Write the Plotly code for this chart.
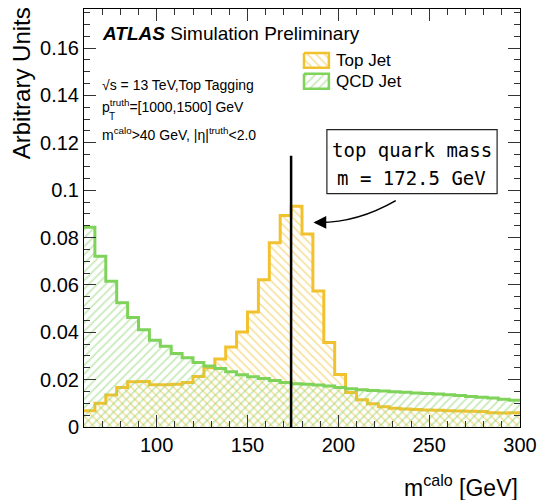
import plotly.graph_objects as go

# ---------------- data ----------------
bin_edges = [60, 66, 72, 78, 84, 90, 96, 102, 108, 114, 120, 126, 132, 138, 144,
             150, 156, 162, 168, 174, 180, 186, 192, 198, 204, 210, 216, 222, 228,
             234, 240, 246, 252, 258, 264, 270, 276, 282, 288, 294, 300]

top_jet = [0.0069, 0.0100, 0.0135, 0.0167, 0.0191, 0.0192, 0.0178, 0.0178, 0.0180, 0.0188,
           0.0213, 0.0250, 0.0287, 0.0338, 0.0401, 0.0486, 0.0622, 0.0778, 0.0893, 0.0932,
           0.0815, 0.0574, 0.0357, 0.0222, 0.0146, 0.0115, 0.0098, 0.0086, 0.0079, 0.0076,
           0.0074, 0.0072, 0.0071, 0.0069, 0.0068, 0.0066, 0.0065, 0.0060, 0.0059, 0.0060]

qcd_jet = [0.0843, 0.0721, 0.0615, 0.0525, 0.0462, 0.0411, 0.0366, 0.0341, 0.0310, 0.0292,
           0.0272, 0.0258, 0.0247, 0.0233, 0.0221, 0.0212, 0.0205, 0.0196, 0.0188, 0.0183,
           0.0180, 0.0177, 0.0173, 0.0167, 0.0161, 0.0157, 0.0154, 0.0152, 0.0149, 0.0147,
           0.0144, 0.0141, 0.0139, 0.0136, 0.0133, 0.0129, 0.0126, 0.0122, 0.0117, 0.0113]

series_names = ["Top Jet", "QCD Jet"]
top_mass_x = 174          # vertical marker position (GeV)
marker_top = 0.1145       # height of the vertical marker
x_range = [60, 300]
y_range = [0, 0.1765]

# ---------------- style ----------------
TOP_LINE = "#F2C12E"
TOP_HATCH = "#EFC23C"
QCD_LINE = "#7FD35B"
QCD_HATCH = "#8ED470"
FONT = "Liberation Sans, Arial, Helvetica, sans-serif"
HAND = "DejaVu Sans Mono, monospace"

fig = go.Figure()


def step(vals):
    return bin_edges, list(vals) + [vals[-1]]


for vals, name, lc, hc, shp in [(top_jet, series_names[0], TOP_LINE, TOP_HATCH, "\\"),
                                 (qcd_jet, series_names[1], QCD_LINE, QCD_HATCH, "/")]:
    xs, ys = step(vals)
    fig.add_trace(go.Scatter(
        x=xs, y=ys, mode="lines", line=dict(shape="hv", color=lc, width=3),
        fill="tozeroy", fillcolor="rgba(0,0,0,0)",
        fillpattern=dict(shape=shp, fgcolor=hc, bgcolor="rgba(0,0,0,0)",
                         size=6, solidity=0.28),
        name=name, showlegend=False, hoverinfo="skip"))

# vertical marker line
fig.add_trace(go.Scatter(x=[top_mass_x, top_mass_x], y=[0, marker_top], mode="lines",
                         line=dict(color="black", width=2.5), showlegend=False,
                         hoverinfo="skip"))

# custom legend swatches in pixel space (overlay axes)
legend_rows = [(52, 67, TOP_LINE, TOP_HATCH, "\\"), (73, 88, QCD_LINE, QCD_HATCH, "/")]
for (y0, y1, lc, hc, shp), name in zip(legend_rows, series_names):
    fig.add_trace(go.Scatter(
        x=[305, 330, 330, 305, 305], y=[y0, y0, y1, y1, y0], xaxis="x2", yaxis="y2",
        mode="lines", line=dict(color=lc, width=2.5), fill="toself",
        fillcolor="rgba(0,0,0,0)",
        fillpattern=dict(shape=shp, fgcolor=hc, bgcolor="white", size=6, solidity=0.28),
        showlegend=False, hoverinfo="skip"))
    fig.add_annotation(x=335, y=(y0 + y1) / 2, xref="x2", yref="y2", text=name,
                       showarrow=False, xanchor="left", yanchor="middle",
                       font=dict(family=FONT, size=17, color="black"))

# annotation box
fig.add_shape(type="rect", xref="x2", yref="y2", x0=328, x1=499, y0=129, y1=193,
              line=dict(color="#222", width=1.2), fillcolor="white")
fig.add_annotation(x=413, y=149, xref="x2", yref="y2", text="top quark mass",
                   showarrow=False, font=dict(family=HAND, size=19, color="black"))
fig.add_annotation(x=413, y=177, xref="x2", yref="y2", text="m = 172.5 GeV",
                   showarrow=False, font=dict(family=HAND, size=19, color="black"))

# curved arrow
fig.add_shape(type="path", xref="x", yref="y",
              path="M 231.6,0.0956 Q 209.6,0.0859 187.5,0.0864",
              line=dict(color="black", width=1.6))
fig.add_annotation(x=186.3, y=0.0864, xref="x", yref="y", ax=14, ay=0, text="",
                   showarrow=True, arrowhead=2, arrowsize=1.6, arrowwidth=1.6,
                   arrowcolor="black")


# text labels (paper coords from pixel positions)
def px(xp):
    return (xp - 84) / 438


def py(yp):
    return (427 - yp) / 419


texts = [
    (100, 32.5, "<b><i>ATLAS</i></b> Simulation Preliminary", 19),
    (100, 84, "\u221as = 13 TeV,Top Tagging", 14),
    (100, 105, "p<sup>truth</sup>=[1000,1500] GeV", 14),
    (100, 133, "m<sup>calo</sup>>40 GeV, |\u03b7|<sup>truth</sup><2.0", 14),
]
for x, y, t, s in texts:
    fig.add_annotation(x=px(x), y=py(y), xref="paper", yref="paper", text=t,
                       showarrow=False, xanchor="left", yanchor="middle",
                       font=dict(family=FONT, size=s, color="black"))
fig.add_annotation(x=px(107.5), y=py(116), xref="paper", yref="paper", text="T",
                   showarrow=False, xanchor="left", yanchor="middle",
                   font=dict(family=FONT, size=10, color="black"))

# axis titles
fig.add_annotation(x=px(21), y=py(4), xref="paper", yref="paper", text="Arbitrary Units",
                   textangle=-90, showarrow=False, xanchor="center", yanchor="top",
                   font=dict(family=FONT, size=24, color="black"))
fig.add_annotation(x=1.0, y=py(486), xref="paper", yref="paper",
                   text="m<sup>calo</sup> [GeV]", showarrow=False, xanchor="right",
                   yanchor="middle", font=dict(family=FONT, size=23, color="black"))

axis_common = dict(showline=True, linecolor="black", linewidth=1, mirror="allticks",
                   ticks="inside", ticklen=12, tickcolor="#333", tickwidth=1,
                   showgrid=False, zeroline=False,
                   tickfont=dict(family=FONT, size=20, color="black"))

fig.update_layout(
    width=545, height=500,
    margin=dict(l=84, r=23, t=8, b=73),
    paper_bgcolor="white", plot_bgcolor="white",
    showlegend=False,
    xaxis=dict(range=x_range, tick0=0, dtick=50,
               minor=dict(dtick=10, tick0=0, ticks="inside", ticklen=6, tickcolor="#333"),
               **axis_common),
    yaxis=dict(range=y_range, tick0=0, dtick=0.02,
               minor=dict(dtick=0.005, tick0=0, ticks="inside", ticklen=6, tickcolor="#333"),
               **axis_common),
    xaxis2=dict(overlaying="x", range=[84, 522], visible=False, fixedrange=True),
    yaxis2=dict(overlaying="y", range=[427, 8], visible=False, fixedrange=True),
)

fig.write_html("out.html", config={"displayModeBar": False},
               post_script="document.body.style.margin='0';document.body.style.overflow='hidden';")
